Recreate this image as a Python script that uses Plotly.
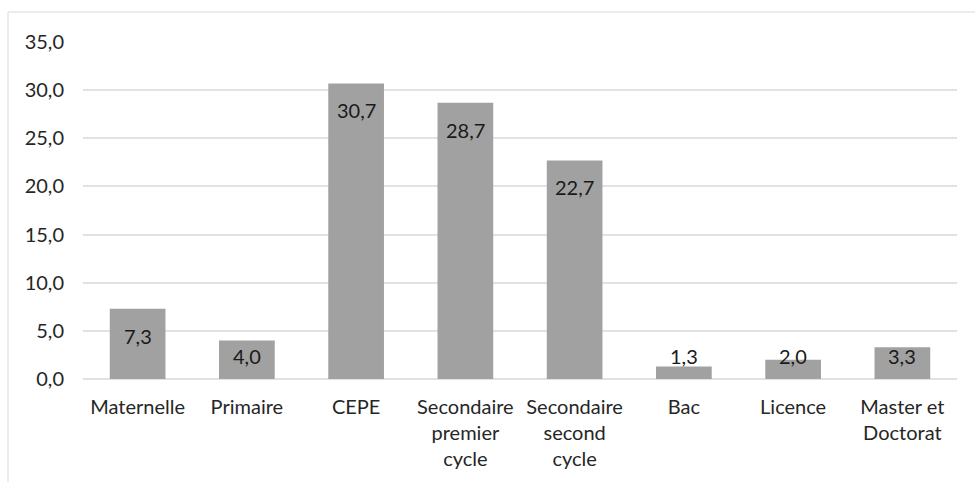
import plotly.graph_objects as go

# Niveaux d'instruction et pourcentages
categories = ["Maternelle", "Primaire", "CEPE", "Secondaire<br>premier<br>cycle",
              "Secondaire<br>second<br>cycle", "Bac", "Licence", "Master et<br>Doctorat"]
values = [7.3, 4.0, 30.7, 28.7, 22.7, 1.3, 2.0, 3.3]
y_ticks = [0, 5, 10, 15, 20, 25, 30, 35]

FONT = "Lato"
SIZE = 20
TEXT = "#262626"
GRID = "#dfe3e8"

fig = go.Figure()
fig.add_trace(go.Bar(
    x=categories, y=values,
    marker=dict(color="#a1a1a1", line=dict(width=0)),
    hoverinfo="skip",
))

# Étiquettes de valeur, placées à l'intérieur du haut des barres
for c, v in zip(categories, values):
    fig.add_annotation(
        x=c, y=max(v - 2.8, 2.4), text=f"{v:.1f}".replace(".", ","),
        showarrow=False, font=dict(family=FONT, size=SIZE, color="#1a1a1a"),
        xanchor="center", yanchor="middle",
    )

# Cadre du graphique
fig.add_shape(type="line", xref="paper", yref="paper",
              x0=-0.0858, x1=1.03, y0=1.089, y1=1.089,
              line=dict(color="#e3e6ea", width=1.5))
fig.add_shape(type="line", xref="paper", yref="paper",
              x0=-0.0858, x1=-0.0858, y0=1.089, y1=-0.32,
              line=dict(color="#e3e6ea", width=1.5))

fig.update_layout(
    width=975, height=482,
    margin=dict(l=83, r=18, t=42, b=103),
    paper_bgcolor="white", plot_bgcolor="white",
    bargap=0.49, showlegend=False,
    font=dict(family=FONT, size=SIZE, color=TEXT),
)
fig.update_xaxes(
    showgrid=False, showline=False, ticks="", ticklabelstandoff=14,
    tickfont=dict(family=FONT, size=SIZE, color=TEXT),
)
fig.update_yaxes(
    range=[0, 35], tickvals=y_ticks,
    ticktext=[f"{t:.1f}".replace(".", ",") for t in y_ticks],
    showgrid=True, gridcolor=GRID, gridwidth=1.5,
    zeroline=True, zerolinecolor=GRID, zerolinewidth=1.5,
    showline=False, ticks="", ticklabelstandoff=18,
    tickfont=dict(family=FONT, size=SIZE, color=TEXT),
)

fig.write_html("out.html")
